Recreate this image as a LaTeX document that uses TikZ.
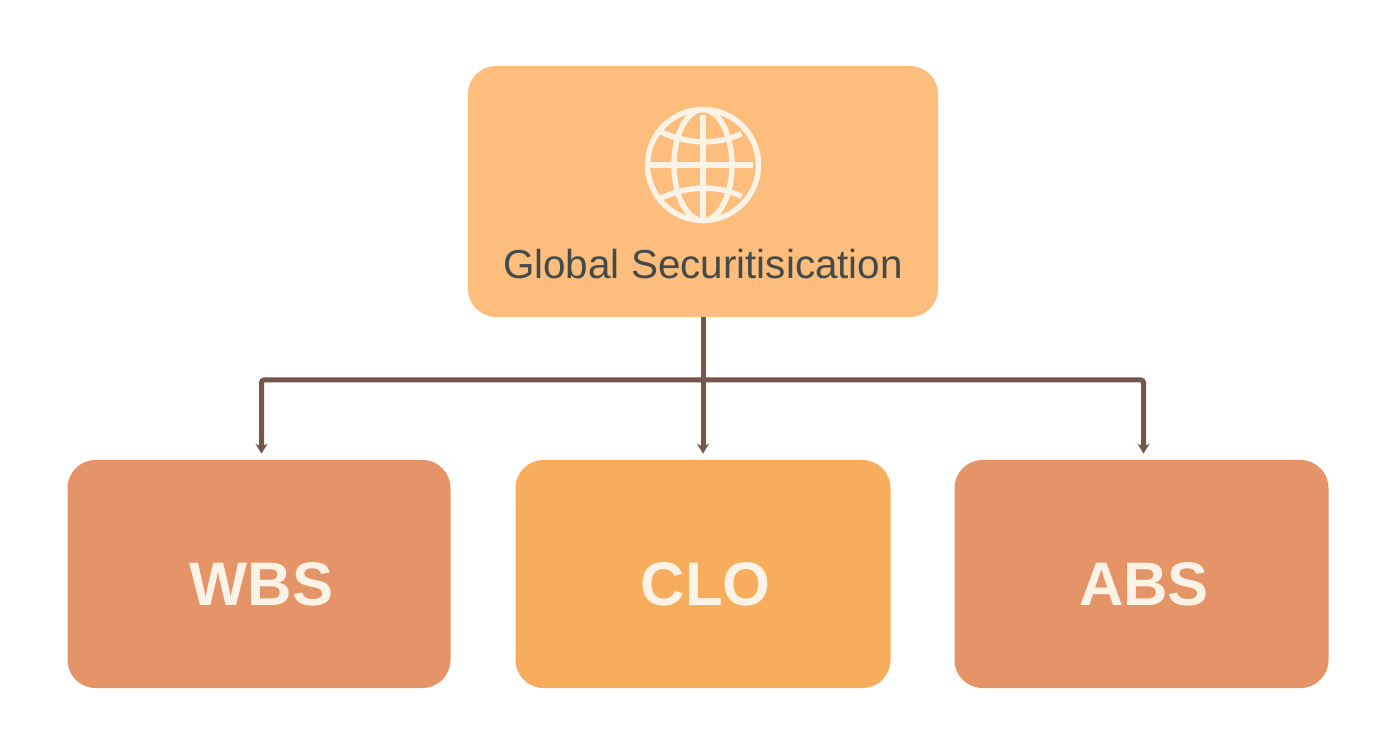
\documentclass[tikz,border=0pt]{standalone}
\usepackage{fontspec}
\setmainfont{Liberation Sans}
\usepackage{tikz}
\usetikzlibrary{calc}
\usetikzlibrary{arrows.meta,positioning}
\definecolor{TopFill}{HTML}{FDBD7C}
\definecolor{SideFill}{HTML}{E59467}
\definecolor{MidFill}{HTML}{F8AD5C}
\definecolor{LinkCol}{HTML}{74574A}
\definecolor{IconCol}{HTML}{FBF3E6}
\definecolor{TextCol}{HTML}{434A4A}
\tikzset{
  box/.style={rounded corners=.56cm,minimum height=4.56cm,inner sep=0pt},
  leaftext/.style={text=IconCol,font=\fontsize{35}{40}\selectfont\bfseries,node distance=.2cm,xshift=.05cm},
  link/.style={line width=.1cm,LinkCol,rounded corners=1.5pt},
  globe/.style={line width=.11cm,IconCol}
}
\begin{document}
\begin{tikzpicture}[shorten >=.12cm,node distance=1cm,>={Stealth[length=.2cm,width=.24cm]}]
      \useasboundingbox (0,0) rectangle (27.84,15.04);
      \fill[white] (0,0) rectangle (27.84,15.04);

      \node[box,fill=TopFill,minimum width=9.4cm,minimum height=5.02cm] (global) at (14.06,11.21) {};
      \node[box,fill=MidFill,minimum width=7.5cm,node distance=7.65cm] (clo) [below of=global] {};
      \node[box,fill=SideFill,minimum width=7.66cm,node distance=8.88cm] (wbs) [left of=clo] {};
      \node[box,fill=SideFill,minimum width=7.48cm,node distance=8.77cm] (abs) [right of=clo] {};
      \node[text=TextCol,font=\fontsize{23}{28}\selectfont,node distance=1.45cm] (title) [below of=global] {Global Securitisication};
      \node[leaftext] (clotext) [below of=clo] {CLO};
      \node[leaftext] (wbstext) [below of=wbs] {WBS};
      \node[leaftext] (abstext) [below of=abs] {ABS};

      % globe icon
      \coordinate[above of=global,node distance=.53cm] (gc);
      \draw[globe] (gc) circle (1.11cm);
      \draw[globe] (gc) ellipse (.58cm and 1.11cm);
      \draw[globe] ($(gc)+(-1.11,0)$) -- ($(gc)+(1.11,0)$);
      \draw[globe] ($(gc)+(0,-1.11)$) -- ($(gc)+(0,1.11)$);
      \draw[globe] ($(gc)+(-.88,.68)$) .. controls ($(gc)+(-.3,.4)$) and ($(gc)+(.3,.4)$) .. ($(gc)+(.88,.68)$);
      \draw[globe] ($(gc)+(-.88,-.68)$) .. controls ($(gc)+(-.3,-.4)$) and ($(gc)+(.3,-.4)$) .. ($(gc)+(.88,-.68)$);

      % connectors
      \coordinate[below of=global,node distance=3.77cm] (hub);
      \draw[link,shorten >=0pt] (global.south) -- (hub);
      \draw[link,->] (hub) -| ($(wbs.north)+(.05,0)$);
      \draw[link,->] (hub) -- (hub |- clo.north);
      \draw[link,->] (hub) -| ($(abs.north)+(.04,0)$);
    \end{tikzpicture}
\end{document}
